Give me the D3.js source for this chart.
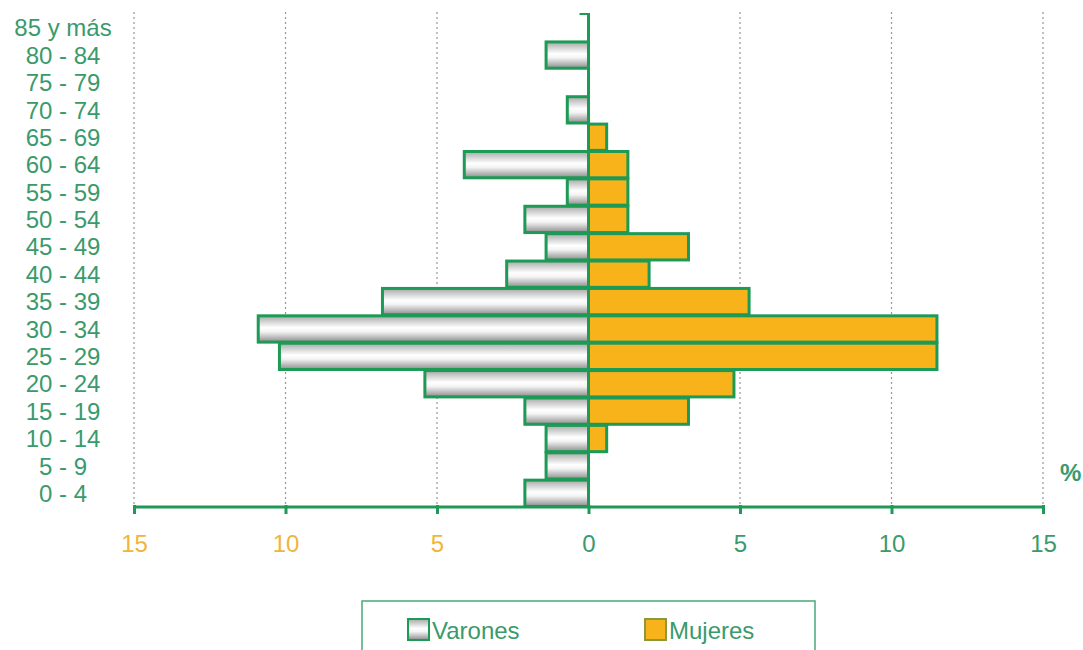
<!DOCTYPE html>
<html><head><meta charset="utf-8">
<script src="https://cdn.jsdelivr.net/npm/d3@7"></script>
<style>body{margin:0;background:#fff}svg{display:block;font-family:"Liberation Sans",Arial,sans-serif}</style>
</head><body><svg id="c" width="1083" height="650"></svg>
<script>
const categories = ["85 y más","80 - 84","75 - 79","70 - 74","65 - 69","60 - 64","55 - 59","50 - 54","45 - 49","40 - 44","35 - 39","30 - 34","25 - 29","20 - 24","15 - 19","10 - 14","5 - 9","0 - 4"];
const varones = [0, 1.4, 0, 0.7, 0, 4.1, 0.7, 2.1, 1.4, 2.7, 6.8, 10.9, 10.2, 5.4, 2.1, 1.4, 1.4, 2.1];
const mujeres = [0, 0, 0, 0, 0.6, 1.3, 1.3, 1.3, 3.3, 2.0, 5.3, 11.5, 11.5, 4.8, 3.3, 0.6, 0, 0];
const ticks = [-15, -10, -5, 0, 5, 10, 15];
const tickLabels = ["15","10","5","0","5","10","15"];
const seriesNames = ["Varones", "Mujeres"];

const green = "#1d9a55", textGreen = "#3a9a6c", orange = "#f8b31a", orangeText = "#f0b53a";
const svg = d3.select("#c");
const x = d3.scaleLinear().domain([-15, 15]).range([134, 1043]);
const y = d3.scaleBand().domain(categories).range([14, 507]).paddingInner(0.04).paddingOuter(0.02);

const defs = svg.append("defs");
const g1 = defs.append("linearGradient").attr("id","gv").attr("x1",0).attr("y1",0).attr("x2",0).attr("y2",1);
g1.append("stop").attr("offset","0%").attr("stop-color","#a8a8a8");
g1.append("stop").attr("offset","45%").attr("stop-color","#ffffff");
g1.append("stop").attr("offset","60%").attr("stop-color","#f4f4f4");
g1.append("stop").attr("offset","100%").attr("stop-color","#8c8c8c");

// grid
svg.append("g").selectAll("line").data(ticks.filter(t => t !== 0)).join("line")
  .attr("x1", d => x(d)).attr("x2", d => x(d)).attr("y1", 12).attr("y2", 507)
  .attr("stroke", "#8f9a94").attr("stroke-width", 1.2).attr("stroke-dasharray", "2,3");

// bars
const rows = categories.map((c, i) => ({c, v: varones[i], m: mujeres[i]}));
svg.append("g").selectAll("rect").data(rows.filter(d => d.v > 0)).join("rect")
  .attr("x", d => x(-d.v)).attr("width", d => x(0) - x(-d.v))
  .attr("y", d => y(d.c)).attr("height", y.bandwidth())
  .attr("fill", "url(#gv)").attr("stroke", green).attr("stroke-width", 3);
svg.append("g").selectAll("rect").data(rows.filter(d => d.m > 0)).join("rect")
  .attr("x", x(0)).attr("width", d => x(d.m) - x(0))
  .attr("y", d => y(d.c)).attr("height", y.bandwidth())
  .attr("fill", orange).attr("stroke", green).attr("stroke-width", 3);

// vertical zero axis
svg.append("line").attr("x1", x(0)).attr("x2", x(0)).attr("y1", 13).attr("y2", 507)
  .attr("stroke", green).attr("stroke-width", 3);
svg.append("line").attr("x1", x(0) - 9).attr("x2", x(0)).attr("y1", 14).attr("y2", 14)
  .attr("stroke", green).attr("stroke-width", 2);

// x axis
const xAxis = d3.axisBottom(x).tickValues(ticks).tickSize(7).tickFormat((d, i) => tickLabels[i]);
const ax = svg.append("g").attr("transform", "translate(0,507)").call(xAxis);
ax.select(".domain").attr("stroke", green).attr("stroke-width", 3).attr("d", `M${x(-15)},0H${x(15)}`);
ax.selectAll(".tick line").attr("stroke", green).attr("stroke-width", 3).attr("y1", -2);
ax.selectAll(".tick text").attr("font-size", 24).attr("dy", "1.45em")
  .attr("font-family", "Liberation Sans, Arial, sans-serif")
  .attr("fill", d => d < 0 ? orangeText : textGreen);

// y labels
svg.append("g").selectAll("text").data(categories).join("text")
  .attr("x", 63).attr("y", d => y(d) + y.bandwidth() / 2).attr("dy", "0.36em")
  .attr("text-anchor", "middle").attr("font-size", 24).attr("fill", textGreen).text(d => d);

// % sign
svg.append("text").attr("x", 1060).attr("y", 481).attr("font-size", 24).attr("font-weight", "bold")
  .attr("fill", textGreen).text("%");

// legend
svg.append("rect").attr("x", 362).attr("y", 601).attr("width", 453).attr("height", 60)
  .attr("fill", "none").attr("stroke", "#4aa87a").attr("stroke-width", 1.5);
const leg = [{n: seriesNames[0], x: 408, fill: "url(#gv)"}, {n: seriesNames[1], x: 645, fill: orange}];
const lg = svg.append("g").selectAll("g").data(leg).join("g");
lg.append("rect").attr("x", d => d.x).attr("y", 619).attr("width", 21).attr("height", 21)
  .attr("fill", d => d.fill).attr("stroke", d => d.fill === orange ? "#8a9a3a" : green).attr("stroke-width", 2);
lg.append("text").attr("x", d => d.x + 24).attr("y", 639).attr("font-size", 24).attr("fill", textGreen).text(d => d.n);
</script></body></html>
